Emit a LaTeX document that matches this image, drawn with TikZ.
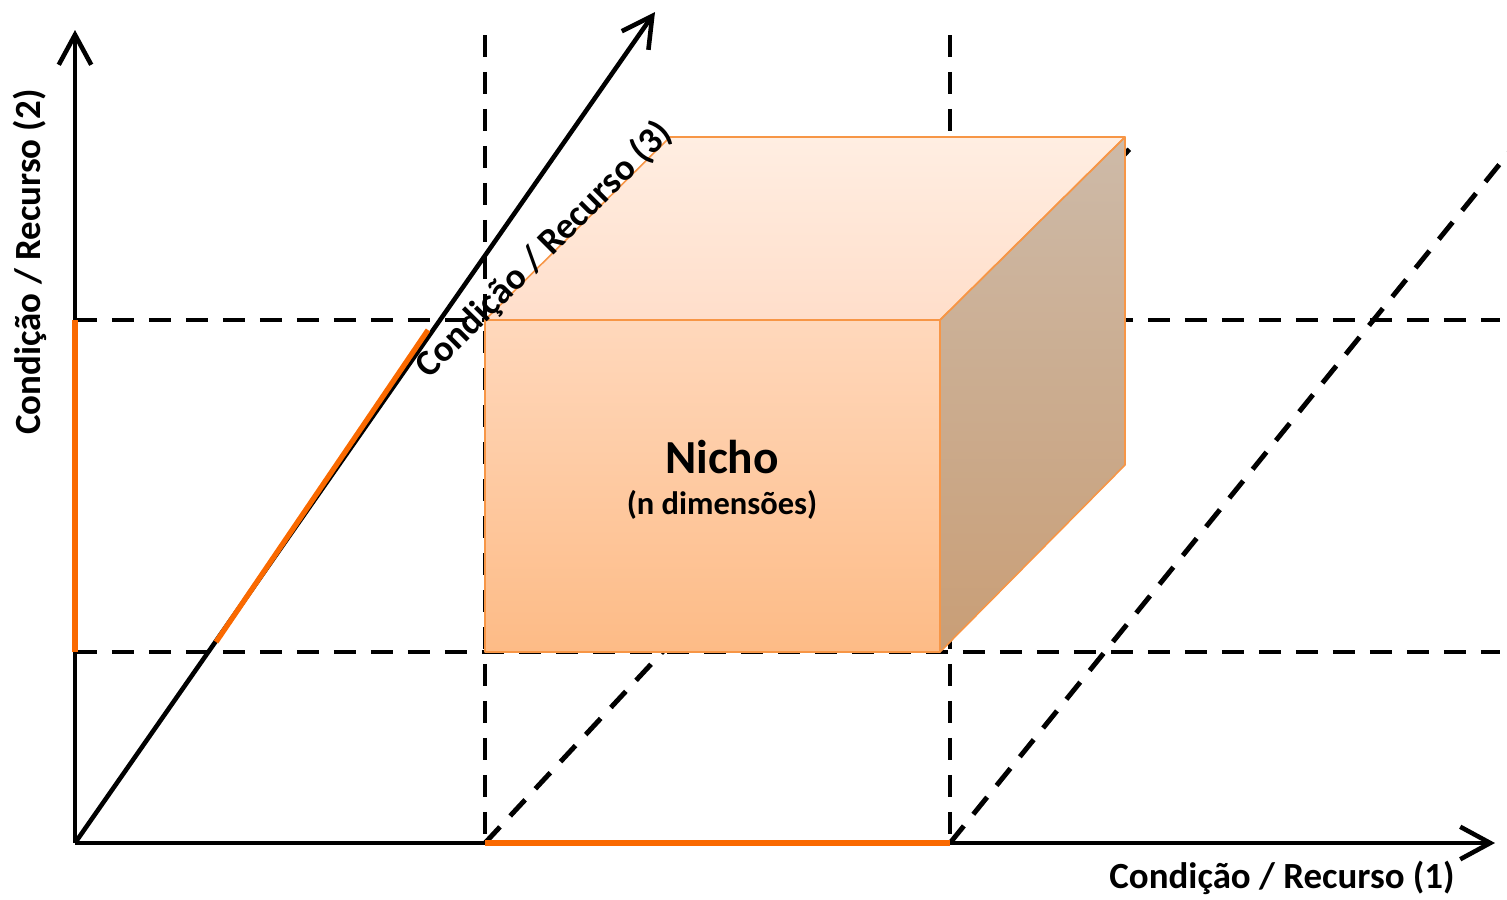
\documentclass[tikz,border=0pt]{standalone}
\usepackage{fontspec}
\setmainfont{Carlito}
\usepackage{tikz}
\usetikzlibrary{arrows.meta,calc,positioning}
\definecolor{edgecolor}{RGB}{247,150,70}
\definecolor{rangecolor}{RGB}{250,105,0}
\definecolor{fronttop}{RGB}{255,216,188}
\definecolor{frontbot}{RGB}{253,187,134}
\definecolor{toptop}{RGB}{255,238,226}
\definecolor{topbot}{RGB}{255,222,202}
\definecolor{sidetop}{RGB}{205,186,168}
\definecolor{sidebot}{RGB}{201,158,118}

\begin{document}
\begin{tikzpicture}[x=0.02cm,y=-0.02cm,>={Straight Barb[length=0.6cm,width=0.65cm]},
  axis/.style={line width=2.6pt,black},
  guide/.style={line width=2.8pt,black,dash pattern=on 0.44cm off 0.3cm},
  nicherange/.style={line width=3pt,rangecolor},
  face/.style={draw=edgecolor,line width=0.9pt,line join=round},
  lbl/.style={font=\bfseries\fontsize{21}{24}\selectfont,inner sep=0pt}]
  \useasboundingbox (0,0) rectangle (1507,899);
  % axes
  \coordinate (O) at (75,843);
  \coordinate (xend) at (1495,843);
  \coordinate (yend) at (75,30);
  \coordinate (zend) at (655,12);
  % niche limits
  \coordinate (xlo) at (485,843);
  \coordinate (xhi) at (950,843);
  \coordinate (ylo) at (75,652);
  \coordinate (yhi) at (75,320);
  \coordinate (zlo) at (216,642);
  \coordinate (zhi) at (428,330);
  % cube corners
  \coordinate (f1) at (485,320);
  \coordinate (f2) at (940,320);
  \coordinate (f3) at (940,652);
  \coordinate (f4) at (485,652);
  \coordinate (b1) at (670,137);
  \coordinate (b2) at (1125,137);
  \coordinate (b3) at (1125,465);

  % dashed guides behind the cube
  \draw[guide] (485,35) -- (xlo);
  \draw[guide] (950,35) -- (xhi);
  \draw[guide] (yhi) -- (1500,320);
  \draw[guide] (ylo) -- (1500,652);
  \draw[guide] (xlo) -- (1137,141);
  \draw[guide] (xhi) -- (1520,139);

  % cube
  \fill[top color=toptop,bottom color=topbot] (f1) -- (b1) -- (b2) -- (f2) -- cycle;
  \fill[top color=sidetop,bottom color=sidebot] (f2) -- (b2) -- (b3) -- (f3) -- cycle;
  \fill[top color=fronttop,bottom color=frontbot] (f1) -- (f2) -- (f3) -- (f4) -- cycle;
  \draw[face] (f1) -- (b1) -- (b2) -- (f2) -- cycle;
  \draw[face] (f2) -- (b2) -- (b3) -- (f3) -- cycle;
  \draw[face] (f1) -- (f2) -- (f3) -- (f4) -- cycle;
  \node[font=\bfseries\fontsize{27}{30}\selectfont] (nicho) at (722,457) {Nicho};
  \node[font=\bfseries\fontsize{18.5}{21}\selectfont] (ndim) at (722,505) {(n dimensões)};

  % axes and ranges
  \draw[axis,->] (O) -- (xend);
  \draw[axis,->] (O) -- (yend);
  \draw[axis,->] (O) -- (zend);
  \draw[nicherange] (xlo) -- (xhi);
  \draw[nicherange] (ylo) -- (yhi);
  \draw[nicherange] (zlo) -- (zhi);

  % axis labels
  \node[lbl] (lblx) at (1282,878) {Condição / Recurso (1)};
  \node[lbl,rotate=90] (lbly) at (30,262) {Condição / Recurso (2)};
  \node[lbl,rotate=45] (lblz) at (544,250) {Condição / Recurso (3)};
\end{tikzpicture}
\end{document}
